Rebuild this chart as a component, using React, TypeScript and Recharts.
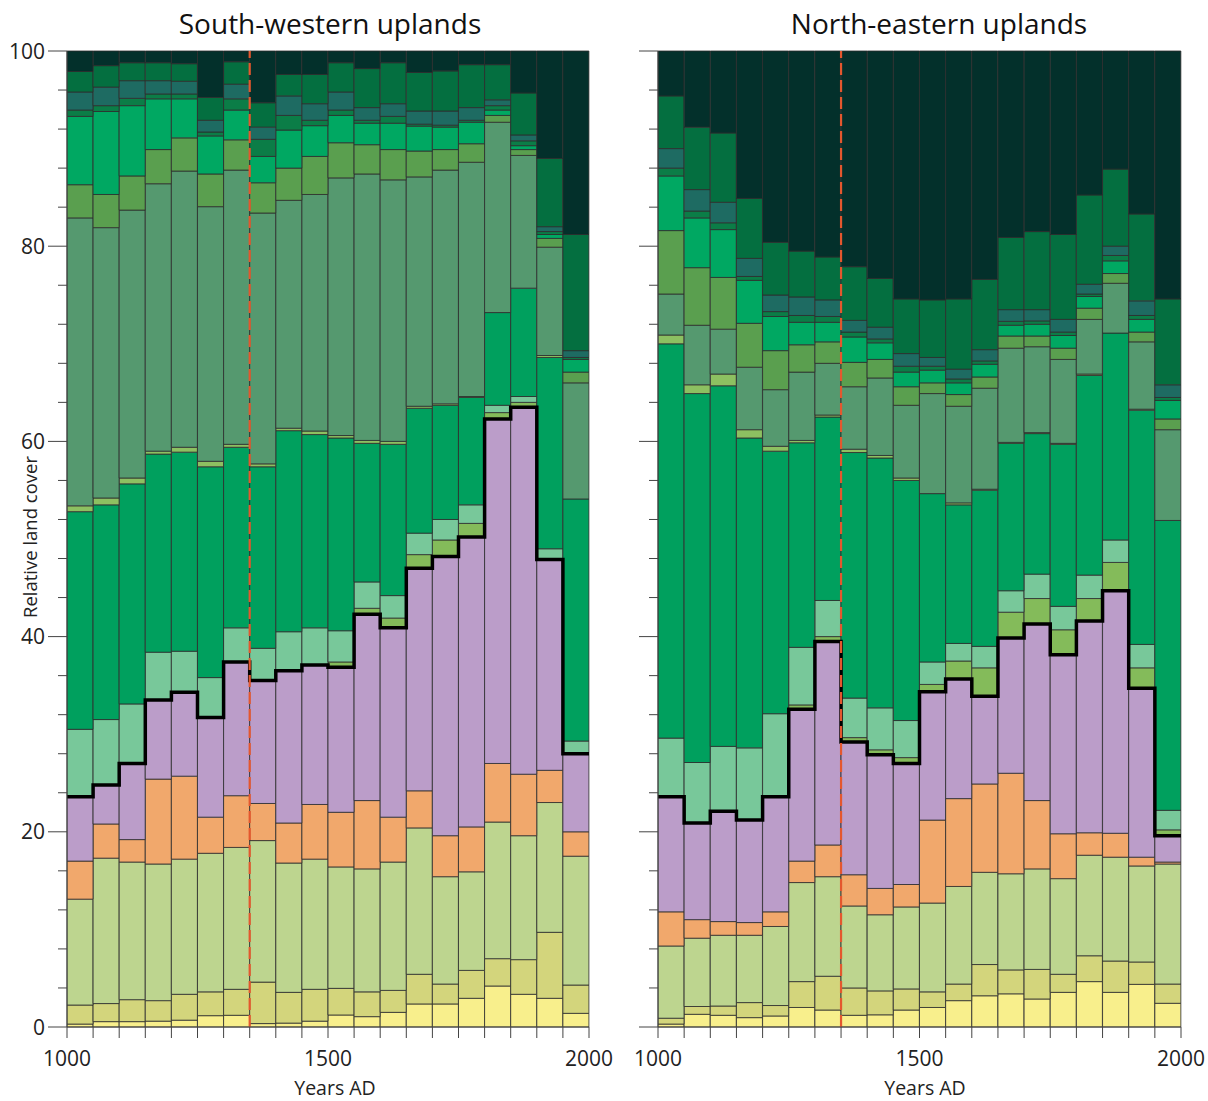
import React from 'react';
import { ComposedChart, Bar, Line, XAxis, YAxis, ReferenceLine } from 'recharts';

// 50-year bins (start year of each bar)
const binStarts = [1000, 1050, 1100, 1150, 1200, 1250, 1300, 1350, 1400, 1450, 1500, 1550, 1600, 1650, 1700, 1750, 1800, 1850, 1900, 1950];
const xTicks = [1000, 1050, 1100, 1150, 1200, 1250, 1300, 1350, 1400, 1450, 1500, 1550, 1600, 1650, 1700, 1750, 1800, 1850, 1900, 1950, 2000];
const xLabelTicks = [1000, 1500, 2000];
const yTicks = [0, 4, 8, 12, 16, 20, 24, 28, 32, 36, 40, 44, 48, 52, 56, 60, 64, 68, 72, 76, 80, 84, 88, 92, 96, 100];
const yLabelTicks = [0, 20, 40, 60, 80, 100];
const dividerYear = 1350;

// Cumulative upper boundary of each land-cover layer (bottom to top), South-western uplands
const swYellow = [0.3, 0.55, 0.55, 0.6, 0.7, 1.16, 1.2, 0.35, 0.4, 0.6, 1.23, 1.06, 1.5, 2.36, 2.36, 2.94, 4.2, 3.35, 2.94, 1.4];
const swOlive = [2.25, 2.4, 2.8, 2.7, 3.35, 3.6, 3.86, 4.6, 3.55, 3.86, 3.96, 3.6, 3.75, 5.4, 4.4, 5.8, 7.0, 6.9, 9.7, 4.3];
const swPaleGreen = [13.1, 17.3, 16.9, 16.7, 17.2, 17.8, 18.4, 19.1, 16.8, 17.2, 16.4, 16.2, 16.9, 20.4, 15.4, 15.9, 21.0, 19.6, 23.0, 17.5];
const swOrange = [17.0, 20.8, 19.2, 25.4, 25.7, 21.5, 23.7, 22.9, 20.9, 22.8, 22.0, 23.2, 21.5, 24.2, 19.6, 20.5, 27.0, 25.9, 26.3, 20.0];
const swPurple = [23.6, 24.8, 27.0, 33.5, 34.3, 31.7, 37.4, 35.5, 36.5, 37.1, 36.85, 42.3, 40.9, 47.0, 48.2, 50.2, 62.3, 63.5, 47.9, 28.0];
const swLime = [23.6, 24.8, 27.0, 33.5, 34.3, 31.7, 37.4, 35.5, 36.5, 37.1, 37.4, 42.9, 41.9, 48.4, 49.9, 51.6, 62.95, 64.0, 47.9, 28.0];
const swMint = [30.5, 31.5, 33.1, 38.4, 38.5, 35.8, 40.9, 38.8, 40.5, 40.9, 40.6, 45.6, 44.2, 50.6, 52.0, 53.5, 63.7, 64.6, 49.0, 29.3];
const swGreen = [52.8, 53.5, 55.65, 58.7, 58.9, 57.4, 59.4, 57.4, 61.1, 60.7, 60.35, 59.8, 59.7, 63.4, 63.7, 64.5, 73.2, 75.7, 68.6, 54.1];
const swLimeThin = [53.4, 54.2, 56.25, 59.0, 59.4, 57.96, 59.7, 57.7, 61.35, 61.06, 60.6, 60.1, 60.0, 63.6, 63.85, 64.6, 73.2, 75.7, 68.8, 54.1];
const swGreyGreen = [82.9, 81.9, 83.7, 86.4, 87.7, 84.05, 87.8, 83.4, 84.7, 85.3, 87.0, 87.4, 86.8, 87.1, 87.8, 88.6, 92.7, 89.3, 79.9, 66.0];
const swMoss = [86.3, 85.3, 87.2, 89.9, 91.1, 87.4, 90.9, 86.5, 88.0, 89.2, 90.6, 90.4, 89.9, 89.75, 89.9, 90.5, 93.4, 89.9, 80.8, 67.1];
const swBright = [93.3, 93.8, 94.4, 95.1, 95.1, 91.3, 93.95, 89.2, 91.9, 92.35, 93.4, 92.6, 92.6, 92.3, 92.2, 92.7, 93.95, 90.3, 81.2, 68.4];
const swDarkThin = [93.95, 94.4, 95.15, 95.6, 95.6, 91.7, 95.1, 90.95, 93.4, 92.9, 93.95, 92.9, 93.3, 92.5, 92.4, 92.9, 94.4, 90.8, 81.5, 68.6];
const swTeal = [95.8, 96.3, 96.96, 96.96, 96.9, 92.9, 96.6, 92.2, 95.4, 94.6, 95.8, 94.2, 94.6, 93.85, 93.85, 94.2, 95.0, 91.4, 82.0, 69.3];
const swDarkGreen = [97.9, 98.5, 98.8, 98.8, 98.7, 95.25, 98.9, 94.7, 97.6, 97.6, 98.8, 98.2, 98.8, 97.8, 97.96, 98.6, 98.6, 95.7, 89.0, 81.2];

// North-eastern uplands
const neYellow = [0.3, 1.3, 1.2, 0.96, 1.13, 2.0, 1.74, 1.2, 1.25, 1.74, 2.0, 2.7, 3.2, 3.4, 2.87, 3.55, 4.65, 3.55, 4.37, 2.43];
const neOlive = [0.9, 2.1, 2.15, 2.5, 2.2, 4.65, 5.2, 4.0, 3.7, 3.9, 3.6, 4.4, 6.4, 5.85, 5.9, 5.4, 7.3, 6.76, 6.66, 4.4];
const nePaleGreen = [8.3, 9.1, 9.4, 9.4, 10.3, 14.8, 15.4, 12.4, 11.5, 12.3, 12.7, 14.4, 15.85, 15.7, 16.2, 15.2, 17.6, 17.4, 16.5, 16.7];
const neOrange = [11.8, 11.0, 10.8, 10.7, 11.8, 17.0, 18.65, 15.6, 14.2, 14.6, 21.2, 23.4, 24.9, 26.0, 23.2, 19.8, 19.9, 19.85, 17.4, 16.9];
const nePurple = [23.6, 20.9, 22.1, 21.2, 23.6, 32.56, 39.5, 29.2, 27.9, 27.0, 34.35, 35.65, 33.9, 39.86, 41.3, 38.14, 41.6, 44.7, 34.7, 19.6];
const neLime = [23.6, 20.9, 22.1, 21.2, 23.6, 33.0, 40.0, 29.65, 28.4, 27.6, 35.1, 37.5, 36.8, 42.5, 43.9, 40.7, 43.9, 47.6, 36.8, 20.2];
const neMint = [29.6, 27.1, 28.75, 28.6, 32.1, 38.9, 43.7, 33.7, 32.7, 31.4, 37.4, 39.3, 39.0, 44.7, 46.4, 43.1, 46.3, 49.9, 39.2, 22.2];
const neGreen = [70.0, 64.9, 65.7, 60.35, 59.0, 59.86, 62.5, 58.86, 58.3, 56.0, 54.65, 53.5, 55.0, 59.8, 60.8, 59.7, 66.76, 71.1, 63.2, 51.9];
const neLimeThin = [70.9, 65.8, 66.9, 61.2, 59.5, 60.1, 62.7, 59.2, 58.56, 56.25, 54.65, 53.7, 55.1, 59.9, 60.9, 59.8, 66.9, 71.1, 63.3, 51.9];
const neGreyGreen = [75.1, 71.9, 71.5, 67.6, 65.3, 67.1, 68.0, 65.6, 66.5, 63.7, 64.9, 63.6, 65.45, 69.55, 69.7, 68.4, 72.5, 76.2, 70.2, 61.2];
const neMoss = [81.6, 77.8, 76.8, 72.1, 69.3, 69.9, 70.2, 68.1, 68.4, 65.6, 66.0, 64.8, 66.6, 70.8, 70.8, 69.55, 73.65, 77.2, 71.2, 62.3];
const neBright = [87.2, 82.9, 81.7, 76.5, 72.8, 72.2, 72.2, 70.7, 70.1, 67.1, 67.3, 66.0, 67.9, 71.9, 72.0, 70.85, 74.85, 78.5, 72.5, 64.2];
const neDarkThin = [88.0, 83.6, 82.4, 76.9, 73.3, 72.9, 72.8, 71.2, 70.5, 67.7, 67.7, 66.4, 68.25, 72.3, 72.35, 71.2, 75.1, 79.05, 72.9, 64.5];
const neTeal = [90.0, 85.8, 84.5, 78.75, 75.0, 74.8, 74.5, 72.4, 71.7, 69.0, 68.6, 67.4, 69.4, 73.5, 73.5, 72.5, 76.1, 80.0, 74.4, 65.8];
const neDarkGreen = [95.4, 92.2, 91.6, 84.9, 80.4, 79.5, 78.9, 77.9, 76.7, 74.6, 74.5, 74.6, 76.6, 80.9, 81.5, 81.2, 85.25, 87.9, 83.3, 74.6];

const layerKeys = ['yellow', 'olive', 'paleGreen', 'orange', 'purple', 'lime', 'mint', 'green', 'limeThin', 'greyGreen', 'moss', 'bright', 'darkThin', 'teal', 'darkGreen', 'nearBlack'];
const layerColors = ['#f8ef8c', '#d3d57c', '#bdd58f', '#f1a86c', '#bb9dc9', '#84bb5a', '#78c89a', '#00a05e', '#8dc061', '#55996f', '#5a9f4f', '#00a862', '#0b7d47', '#1e6b62', '#046f40', '#03302b'];

const swTops = [swYellow, swOlive, swPaleGreen, swOrange, swPurple, swLime, swMint, swGreen, swLimeThin, swGreyGreen, swMoss, swBright, swDarkThin, swTeal, swDarkGreen];
const neTops = [neYellow, neOlive, nePaleGreen, neOrange, nePurple, neLime, neMint, neGreen, neLimeThin, neGreyGreen, neMoss, neBright, neDarkThin, neTeal, neDarkGreen];

function buildRows(tops: number[][]) {
  return binStarts.map((start, i) => {
    const row: Record<string, number> = { bin: start };
    let prev = 0;
    tops.forEach((arr, k) => {
      row[layerKeys[k]] = Math.max(0, arr[i] - prev);
      prev = Math.max(prev, arr[i]);
    });
    row[layerKeys[15]] = Math.max(0, 100 - prev);
    return row;
  });
}

function buildStep(purpleTop: number[]) {
  const pts = binStarts.map((start, i) => ({ year: start, v: purpleTop[i] }));
  pts.push({ year: 2000, v: purpleTop[purpleTop.length - 1] });
  return pts;
}

const FONT = "'Open Sans', 'Noto Sans', sans-serif";

const YTick = (props: any) => {
  const { x, y, payload, showLabel } = props;
  const major = yLabelTicks.includes(payload.value);
  const len = major ? 19 : 9;
  return (
    <g>
      <line x1={x - len} x2={x} y1={y} y2={y} stroke="#444" strokeWidth={1} />
      {showLabel && major ? (
        <text x={x - len - 3} y={y} dy="0.36em" textAnchor="end" fontFamily={FONT} fontSize={21} fill="#222">
          {payload.value}
        </text>
      ) : null}
    </g>
  );
};

const XTick = (props: any) => {
  const { x, y, payload } = props;
  const major = xLabelTicks.includes(payload.value);
  return (
    <g>
      <line x1={x} x2={x} y1={y} y2={y + 11} stroke="#444" strokeWidth={1} />
      {major ? (
        <text x={x} y={y + 39} textAnchor="middle" fontFamily={FONT} fontSize={21} fill="#222">
          {payload.value}
        </text>
      ) : null}
    </g>
  );
};

function Panel(props: { tops: number[][]; showLabels: boolean; width: number; yAxisWidth: number; marginRight: number }) {
  const { tops, showLabels, width, yAxisWidth, marginRight } = props;
  const rows = buildRows(tops);
  const step = buildStep(tops[4]);
  return (
    <ComposedChart
      width={width}
      height={1101}
      data={rows}
      margin={{ top: 51, right: marginRight, bottom: 34, left: 0 }}
      barCategoryGap={0}
      barGap={0}
    >
      <XAxis xAxisId="cat" dataKey="bin" type="category" hide height={0} padding={{ left: 0, right: 0 }} />
      <XAxis
        xAxisId="num"
        dataKey="year"
        type="number"
        domain={[1000, 2000]}
        ticks={xTicks}
        interval={0}
        tick={(p: any) => <XTick {...p} />}
        tickLine={false}
        tickSize={0}
        tickMargin={0}
        axisLine={{ stroke: '#444' }}
        height={40}
        allowDataOverflow
      />
      <YAxis
        type="number"
        domain={[0, 100]}
        ticks={yTicks}
        interval={0}
        tick={(p: any) => <YTick {...p} showLabel={showLabels} />}
        tickLine={false}
        tickSize={0}
        tickMargin={0}
        width={yAxisWidth}
        axisLine={{ stroke: '#444' }}
      />
      {layerKeys.map((k, i) => (
        <Bar
          key={k}
          xAxisId="cat"
          dataKey={k}
          stackId="cover"
          fill={layerColors[i]}
          stroke="#2c2c2c"
          strokeWidth={0.8}
          isAnimationActive={false}
        />
      ))}
      <Line
        xAxisId="num"
        data={step}
        dataKey="v"
        type="stepAfter"
        stroke="#000"
        strokeWidth={3.5}
        dot={false}
        activeDot={false}
        isAnimationActive={false}
      />
      <ReferenceLine xAxisId="num" x={dividerYear} stroke="#e4572e" strokeWidth={2.2} strokeDasharray="12 5" />
    </ComposedChart>
  );
}

export default function App() {
  return (
    <div style={{ position: 'fixed', left: 0, top: 0, width: 1208, height: 1101, background: '#fff', overflow: 'visible' }}>
      <div style={{ position: 'absolute', left: 0, top: 0 }}>
        <Panel tops={swTops} showLabels={true} width={630} yAxisWidth={67} marginRight={41} />
      </div>
      <div style={{ position: 'absolute', left: 600, top: 0 }}>
        <Panel tops={neTops} showLabels={false} width={608} yAxisWidth={58} marginRight={27} />
      </div>
      <svg width={1208} height={1101} style={{ position: 'absolute', left: 0, top: 0, pointerEvents: 'none' }}>
        <text x={330} y={34} textAnchor="middle" fontFamily={FONT} fontSize={28} fill="#111">South-western uplands</text>
        <text x={939} y={34} textAnchor="middle" fontFamily={FONT} fontSize={28} fill="#111">North-eastern uplands</text>
        <text x={335} y={1095} textAnchor="middle" fontFamily={FONT} fontSize={19.5} fill="#222">Years AD</text>
        <text x={925} y={1095} textAnchor="middle" fontFamily={FONT} fontSize={19.5} fill="#222">Years AD</text>
        <text x={37} y={537} textAnchor="middle" fontFamily={FONT} fontSize={18.5} fill="#222" transform="rotate(-90 37 537)">Relative land cover</text>
      </svg>
    </div>
  );
}
